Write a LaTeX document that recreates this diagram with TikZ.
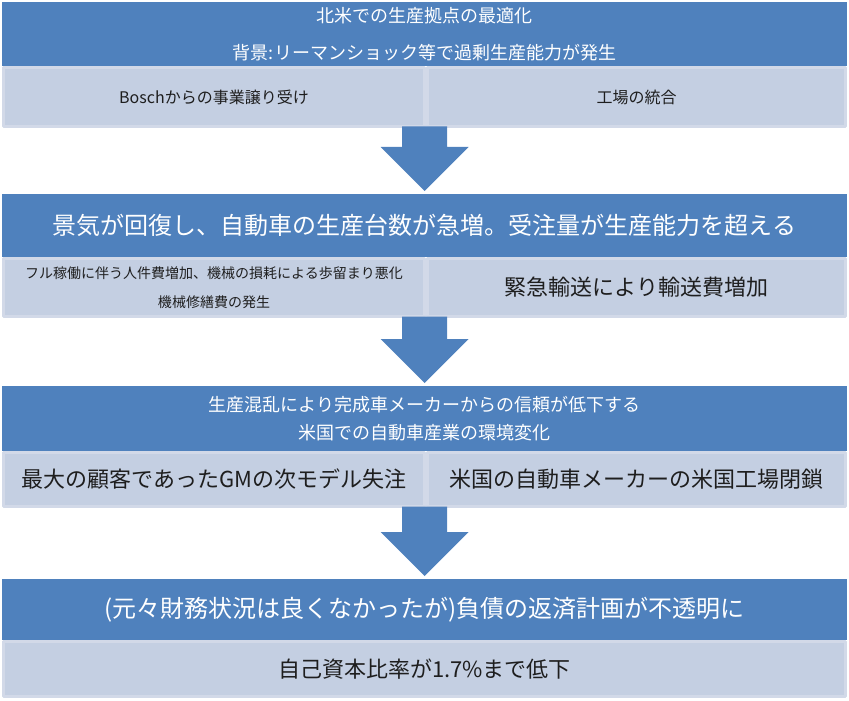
\documentclass[tikz,border=0pt]{standalone}
\usepackage{fontspec}
\setmainfont{Noto Sans CJK JP}
\usetikzlibrary{calc}
\definecolor{headblue}{HTML}{4F81BD}
\definecolor{cellfill}{HTML}{C4CFE2}
\definecolor{cellrim}{HTML}{D2D9E8}
\definecolor{celltext}{HTML}{1E1E1E}
\begin{document}
\begin{tikzpicture}[x=1bp,y=-1bp,line join=bevel,
  head/.style={fill=headblue,text=white,inner sep=0pt,outer sep=0pt,minimum width=845bp,align=center},
  cell/.style={fill=cellfill,draw=cellrim,line width=3bp,text=celltext,inner sep=0pt,outer sep=0pt,align=center},
  ]
\useasboundingbox (0,0) rectangle (849,701);
%%
  % Node: goal
  \node[head,minimum height=64bp,font=\fontsize{18bp}{37bp}\selectfont] (goal) at (424.5,34)
    {北米での生産拠点の最適化\\背景:リーマンショック等で過剰生産能力が発生};
  % Node: bosch
  \node[cell,minimum width=421bp,minimum height=59bp,font=\fontsize{16bp}{19bp}\selectfont] (bosch) at (214,97)
    {Boschからの事業譲り受け};
  % Node: merge
  \node[cell,minimum width=418bp,minimum height=59bp,font=\fontsize{16bp}{19bp}\selectfont] (merge) at (636.5,97)
    {工場の統合};
  % Node: boom
  \node[head,minimum height=63bp,font=\fontsize{24bp}{30bp}\selectfont] (boom) at (424.5,225.5)
    {景気が回復し、自動車の生産台数が急増。受注量が生産能力を超える};
  % Node: overtime
  \node[cell,minimum width=421bp,minimum height=58bp,font=\fontsize{14bp}{29bp}\selectfont] (overtime) at (214,287.5)
    {フル稼働に伴う人件費増加、機械の損耗による歩留まり悪化\\機械修繕費の発生};
  % Node: rush
  \node[cell,minimum width=418bp,minimum height=58bp,font=\fontsize{22bp}{26bp}\selectfont] (rush) at (636.5,287.5)
    {緊急輸送により輸送費増加};
  % Node: trust
  \node[head,minimum height=65bp,font=\fontsize{18bp}{28bp}\selectfont] (trust) at (424.5,418.5)
    {生産混乱により完成車メーカーからの信頼が低下する\\米国での自動車産業の環境変化};
  % Node: gm
  \node[cell,minimum width=421bp,minimum height=54bp,font=\fontsize{22bp}{26bp}\selectfont] (gm) at (214,479.5)
    {最大の顧客であったGMの次モデル失注};
  % Node: closure
  \node[cell,minimum width=418bp,minimum height=54bp,font=\fontsize{22bp}{26bp}\selectfont] (closure) at (636.5,479.5)
    {米国の自動車メーカーの米国工場閉鎖};
  % Node: debt
  \node[head,minimum height=61bp,font=\fontsize{24bp}{30bp}\selectfont] (debt) at (424.5,609.5)
    {(元々財務状況は良くなかったが)負債の返済計画が不透明に};
  % Node: equity
  \node[cell,minimum width=842bp,minimum height=55bp,font=\fontsize{22bp}{26bp}\selectfont] (equity) at (424.5,669)
    {自己資本比率が1.7\%まで低下};
  % Edge: goal -> boom, boom -> trust, trust -> debt
  \foreach \up/\row/\down in {goal/bosch/boom,boom/overtime/trust,trust/gm/debt}
    \fill[headblue] let \p1=(\up.center |- \row.south), \p2=(\down.north) in
      (\x1-22.5bp,\y1) -- (\x1+22.5bp,\y1) -- (\x1+22.5bp,\y2+47bp) -- (\x1+44bp,\y2+47bp)
      -- (\x1,\y2+3bp) -- (\x1-44bp,\y2+47bp) -- (\x1-22.5bp,\y2+47bp) -- cycle;
%
\end{tikzpicture}
\end{document}
